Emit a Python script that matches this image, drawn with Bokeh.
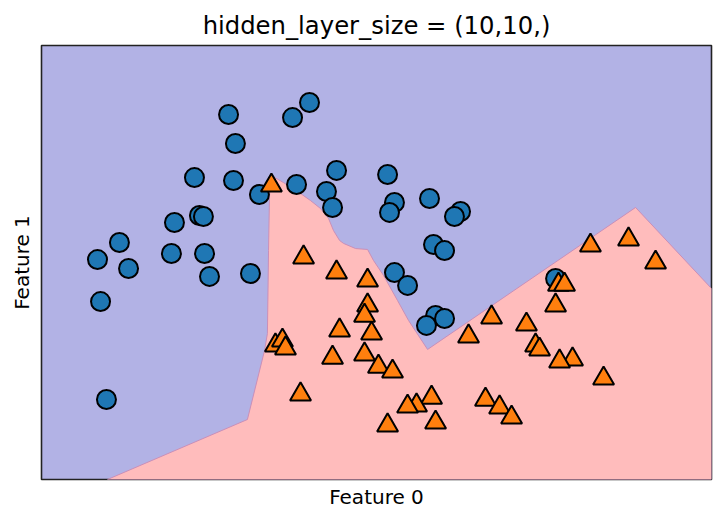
from bokeh.plotting import figure
from bokeh.models import Range1d, FixedTicker, ColumnDataSource
from bokeh.transform import dodge
from bokeh.embed import file_html
from bokeh.resources import INLINE

title_text = "hidden_layer_size = (10,10,)"
x_label = "Feature 0"
y_label = "Feature 1"

# class 0 (circles)
class0_x = [-0.431, -0.388, -0.644, -0.400, -0.238, -0.769, -0.613, -0.588, -1.113, -1.250,
            -0.788, -0.581, -1.056, -0.550, -0.294, -1.231, -1.194, 0.075, -0.031, 0.244,
            -0.006, 0.181, 0.219, 0.563, 0.606, 0.575, 0.825, 1.019, 0.981, 0.850,
            0.919, 0.606, 0.688, 0.863, 0.919, 0.806, 1.613]
class0_y = [1.255, 1.068, 0.848, 0.829, 0.739, 0.558, 0.603, 0.597, 0.429, 0.319,
            0.358, 0.358, 0.261, 0.210, 0.229, 0.048, -0.584, 1.332, 1.235, 0.894,
            0.803, 0.758, 0.655, 0.868, 0.687, 0.623, 0.713, 0.629, 0.597, 0.416,
            0.377, 0.235, 0.152, -0.042, -0.061, -0.106, 0.197]

# class 1 (triangles)
class1_x = [-0.163, 0.038, 0.244, 0.438, 0.438, 0.419, 0.263, 0.463, -0.138, -0.094,
            -0.075, 0.219, 0.419, 0.506, 0.594, 0.019, 0.838, 0.744, 0.688, 0.563,
            0.863, 1.831, 2.069, 1.631, 1.669, 1.613, 1.213, 1.431, 1.069, 1.488,
            1.513, 1.719, 1.638, 1.913, 1.175, 1.263, 1.338, 2.238]
class1_y = [0.816, 0.352, 0.255, 0.203, 0.042, -0.023, -0.119, -0.139, -0.216, -0.184,
            -0.235, -0.294, -0.274, -0.352, -0.384, -0.532, -0.552, -0.603, -0.610, -0.732,
            -0.713, 0.429, 0.468, 0.177, 0.177, 0.042, -0.035, -0.081, -0.158, -0.216,
            -0.242, -0.306, -0.319, -0.429, -0.565, -0.616, -0.681, 0.319]

# decision region of class 1 (outline of the predicted area)
boundary_x = [-1.188, -0.313, -0.206, -0.188, -0.181, -0.175, -0.163, -0.088, 0.019, 0.081,
              0.144, 0.194, 0.225, 0.263, 0.288, 0.363, 0.438, 0.475, 0.538, 0.625,
              0.694, 0.813, 2.113, 2.5875, 2.5875]
boundary_y = [-1.1, -0.713, -0.268, -0.158, 0.377, 0.732, 0.861, 0.816, 0.745, 0.700,
              0.648, 0.584, 0.506, 0.442, 0.423, 0.390, 0.384, 0.313, 0.216, 0.055,
              -0.074, -0.261, 0.655, 0.132, -1.1]

x_min, x_max = -1.6, 2.5875
y_min, y_max = -1.1, 1.7

blue_region = "#b2b2e5"
red_region = "#ffbcbc"
blue_pt = "#1f77b4"
orange_pt = "#ff7f0e"

p = figure(width=725, height=521, output_backend="svg", toolbar_location=None,
           x_range=Range1d(x_min, x_max), y_range=Range1d(y_min, y_max),
           min_border_left=41, min_border_right=14, min_border_top=45, min_border_bottom=42,
           title=title_text)
p.background_fill_color = blue_region
p.border_fill_color = "white"
p.outline_line_color = "#222222"
p.outline_line_width = 1.6
p.grid.visible = False

p.title.text_font = "DejaVu Sans"
p.title.text_font_size = "24.3px"
p.title.text_font_style = "normal"
p.title.text_color = "black"
p.title.align = "center"
p.title.standoff = 11

for ax, lab, so in ((p.xaxis, x_label, 5), (p.yaxis, y_label, 8)):
    ax.ticker = FixedTicker(ticks=[])
    ax.major_tick_line_color = None
    ax.minor_tick_line_color = None
    ax.axis_line_color = None
    ax.major_label_text_font_size = "0px"
    ax.axis_label = lab
    ax.axis_label_text_font = "DejaVu Sans"
    ax.axis_label_text_font_size = "20px"
    ax.axis_label_text_font_style = "normal"
    ax.axis_label_text_color = "black"
    ax.axis_label_standoff = so

p.patch(boundary_x, boundary_y, fill_color=red_region, line_color="#c98fb8", line_width=1)

src0 = ColumnDataSource(dict(x=class0_x, y=class0_y))
src1 = ColumnDataSource(dict(x=class1_x, y=class1_y))
p.scatter("x", "y", source=src0, marker="circle", size=19, fill_color=blue_pt,
          line_color="black", line_width=2)
p.scatter("x", dodge("y", -0.0194, range=p.y_range), source=src1, marker="triangle", size=21,
          fill_color=orange_pt, line_color="black", line_width=2)

open("out.html", "w").write(file_html(p, INLINE))
